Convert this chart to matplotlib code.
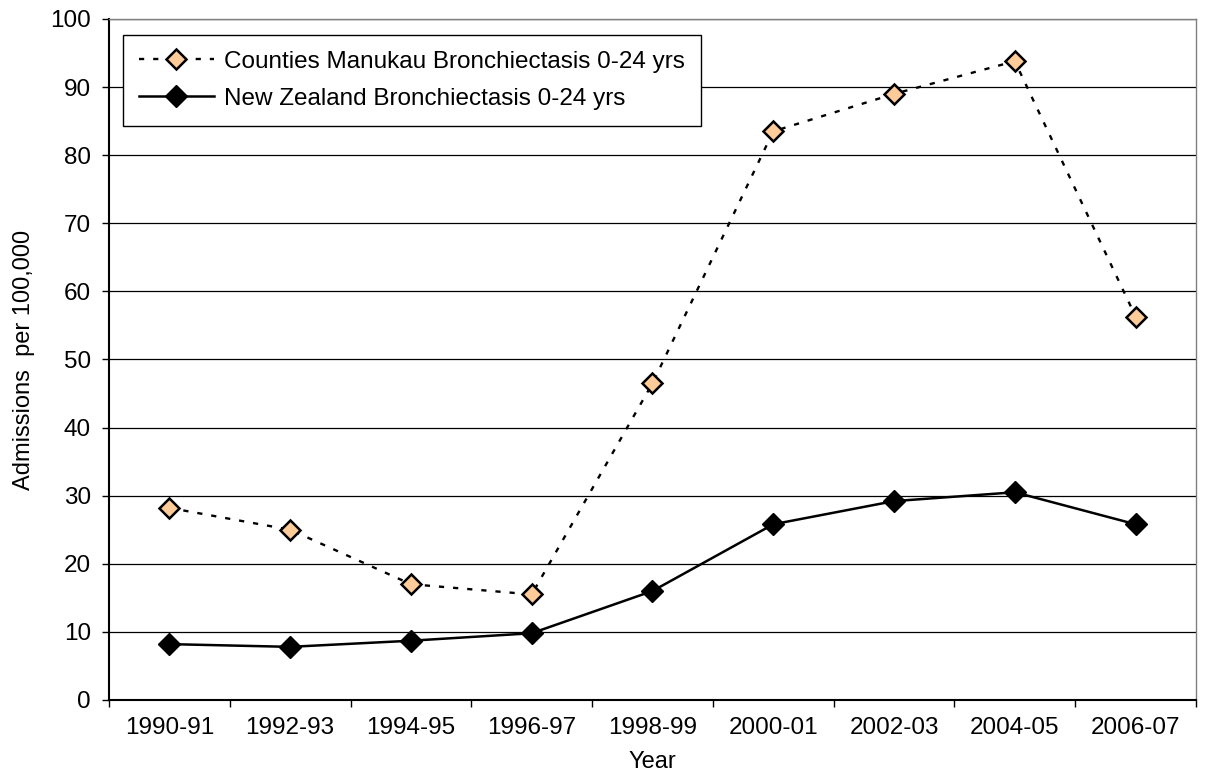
import numpy as np
import matplotlib.pyplot as plt

plt.rcParams['font.family'] = ['Liberation Sans', 'DejaVu Sans']

years = ['1990-91', '1992-93', '1994-95', '1996-97', '1998-99',
         '2000-01', '2002-03', '2004-05', '2006-07']
counties_manukau = [28.2, 25.0, 17.0, 15.5, 46.5, 83.5, 89.0, 93.8, 56.3]
new_zealand = [8.2, 7.8, 8.7, 9.8, 16.0, 25.8, 29.2, 30.5, 25.8]

fig = plt.figure(figsize=(12.11, 7.78), dpi=100)
ax = fig.add_axes([0.090, 0.1003, 0.8976, 0.8753])

x = np.arange(len(years))
ax.plot(x, counties_manukau, linestyle=(0, (2.2, 3.8)), color='black', lw=1.7,
        marker='D', markersize=10.5, markerfacecolor='#FFCC99',
        markeredgecolor='black', markeredgewidth=1.8,
        label='Counties Manukau Bronchiectasis 0-24 yrs', zorder=4)
ax.plot(x, new_zealand, linestyle='-', color='black', lw=1.8,
        marker='D', markersize=11.5, markerfacecolor='black',
        markeredgecolor='black',
        label='New Zealand Bronchiectasis 0-24 yrs', zorder=4)

ax.set_xlim(-0.5, len(years) - 0.5)
ax.set_ylim(0, 100)
ax.set_yticks(range(0, 101, 10))
ax.set_xticks(x)
ax.set_xticklabels(years)
ax.set_xticks(np.arange(-0.5, len(years)), minor=True)
ax.tick_params(axis='x', which='major', length=0, pad=12, labelsize=17.5)
ax.tick_params(axis='x', which='minor', length=5, width=1, direction='out')
ax.tick_params(axis='y', length=5, width=1, direction='out', labelsize=17.5, pad=8)

ax.yaxis.grid(True, color='black', lw=0.9)
ax.set_axisbelow(True)

for s in ['top', 'right']:
    ax.spines[s].set_color('#808080')
    ax.spines[s].set_linewidth(1)
for s in ['left', 'bottom']:
    ax.spines[s].set_linewidth(1.5)

ax.set_xlabel('Year', fontsize=17, labelpad=9)
ax.set_ylabel('Admissions  per 100,000', fontsize=17, labelpad=11)

leg = ax.legend(loc='upper left', bbox_to_anchor=(0.0129, 0.9765),
                borderaxespad=0, fancybox=False, framealpha=1,
                edgecolor='black', fontsize=17.5, handlelength=3.1,
                borderpad=0.65, labelspacing=0.62, handletextpad=0.4)
leg.get_frame().set_linewidth(1)

fig.savefig('out.png', dpi=100)
